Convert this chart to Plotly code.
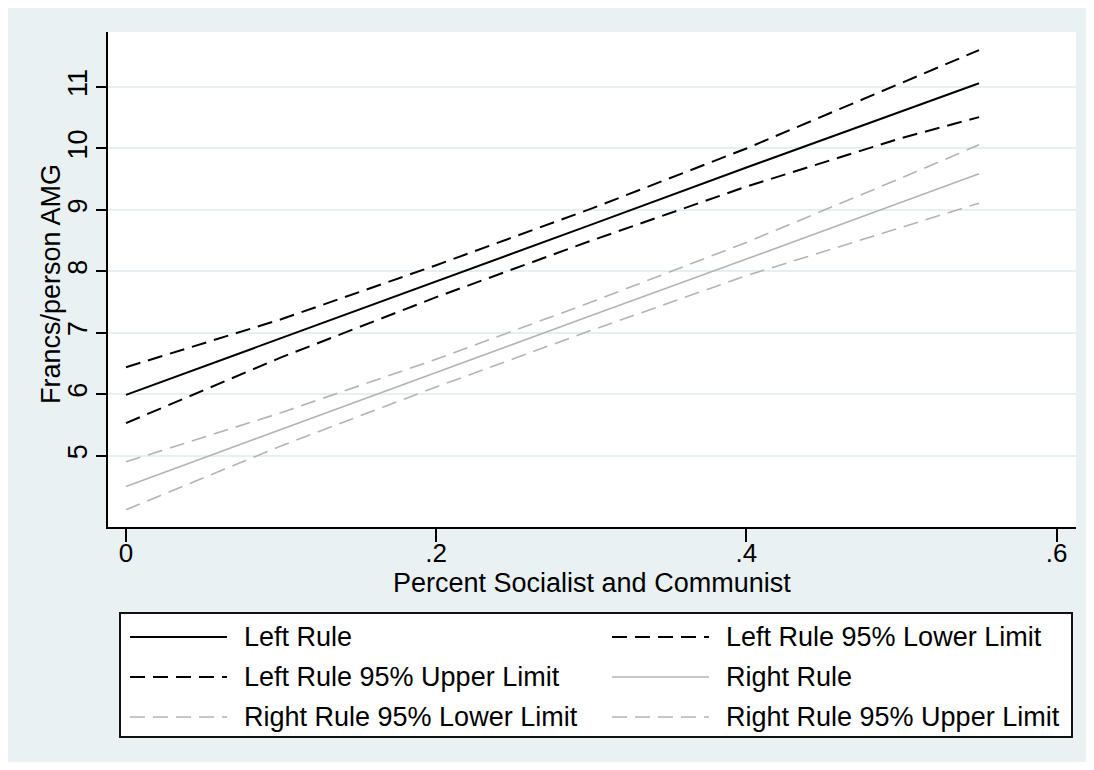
import plotly.graph_objects as go

# Predicted aid (francs/person AMG) against left vote share, with 95% limits
pct_left = [0, 0.1, 0.2, 0.3, 0.4, 0.5, 0.55]
left_rule = [5.99, 6.91, 7.84, 8.76, 9.69, 10.61, 11.06]
left_lower = [5.53, 6.60, 7.58, 8.50, 9.38, 10.17, 10.51]
left_upper = [6.44, 7.22, 8.10, 9.02, 10.00, 11.06, 11.60]
right_rule = [4.50, 5.43, 6.35, 7.28, 8.20, 9.13, 9.59]
right_lower = [4.12, 5.16, 6.12, 7.04, 7.93, 8.72, 9.11]
right_upper = [4.90, 5.70, 6.57, 7.50, 8.47, 9.52, 10.06]

x_ticks = [0, 0.2, 0.4, 0.6]
x_ticklabels = ["0", ".2", ".4", ".6"]
y_ticks = [5, 6, 7, 8, 9, 10, 11]

BLACK = "#000000"
GRAY = "#b4b4b4"
DASH = "15px,8px"
BG = "#eaf1f3"
FONT = "Liberation Sans, Arial, sans-serif"

# order = legend order (two columns, filled row by row)
series = [
    ("Left Rule", left_rule, BLACK, "solid", 2),
    ("Left Rule 95% Lower Limit", left_lower, BLACK, DASH, 2),
    ("Left Rule 95% Upper Limit", left_upper, BLACK, DASH, 2),
    ("Right Rule", right_rule, GRAY, "solid", 1.6),
    ("Right Rule 95% Lower Limit", right_lower, GRAY, DASH, 1.6),
    ("Right Rule 95% Upper Limit", right_upper, GRAY, DASH, 1.6),
]

# page body adds an 8px margin, so work in figure pixels = page pixels - 8
OFF = 8
W, H = 1094 - 2 * OFF, 770 - 2 * OFF
L, T = 108 - OFF, 32 - OFF
R = W - (1076 - OFF)
B = H - (527 - OFF)
pw, ph = W - L - R, H - T - B


def px(x):
    return (x - OFF - L) / pw


def py(y):
    return (H - B - (y - OFF)) / ph


fig = go.Figure()
for name, vals, color, dash, width in series:
    fig.add_trace(go.Scatter(
        x=pct_left, y=vals, mode="lines", name=name,
        line=dict(color=color, dash=dash, width=width),
        showlegend=False,
    ))

# hand-built legend box, Stata style
shapes = [dict(type="rect", xref="paper", yref="paper",
               x0=px(120), x1=px(1072), y0=py(737), y1=py(613),
               line=dict(color="#111111", width=2), fillcolor="white", layer="below")]
annotations = []
row_y = [637, 677, 717]
col_x = [(130, 227, 242), (612, 709, 724)]
for i, (name, vals, color, dash, width) in enumerate(series):
    r, c = divmod(i, 2)
    x0, x1, xt = col_x[c]
    shapes.append(dict(type="line", xref="paper", yref="paper",
                       x0=px(x0), x1=px(x1), y0=py(row_y[r]), y1=py(row_y[r]),
                       line=dict(color=color, dash=dash, width=width)))
    annotations.append(dict(xref="paper", yref="paper", x=px(xt), y=py(row_y[r]),
                            text=name, showarrow=False, xanchor="left", yanchor="middle",
                            font=dict(size=27, color="black")))

annotations.append(dict(xref="paper", yref="paper", x=0.5, y=py(583),
                        text="Percent Socialist and Communist", showarrow=False,
                        xanchor="center", yanchor="middle", font=dict(size=27, color="black")))
annotations.append(dict(xref="paper", yref="paper", x=px(51), y=py(284),
                        text="Francs/person AMG", showarrow=False, textangle=-90,
                        xanchor="center", yanchor="middle", font=dict(size=27, color="black")))

fig.update_layout(
    width=W, height=H,
    margin=dict(l=L, r=R, t=T, b=B),
    paper_bgcolor=BG,
    plot_bgcolor="white",
    font=dict(family=FONT, size=27, color="black"),
    shapes=shapes,
    annotations=annotations,
    xaxis=dict(
        range=[-0.0116, 0.6125], tickvals=x_ticks, ticktext=x_ticklabels,
        showgrid=False, zeroline=False, showline=True, linecolor="black", linewidth=2,
        ticks="outside", ticklen=13, tickwidth=2, tickcolor="black",
        ticklabelstandoff=-11, tickfont=dict(size=26),
    ),
    yaxis=dict(
        range=[3.84, 11.895], tickvals=y_ticks, tickangle=-90,
        showgrid=True, gridcolor="#e6eff1", gridwidth=2,
        zeroline=False, showline=True, linecolor="black", linewidth=2,
        ticks="outside", ticklen=10, tickwidth=2, tickcolor="black",
        ticklabelstandoff=-2,
    ),
)

fig.write_html("out.html")
